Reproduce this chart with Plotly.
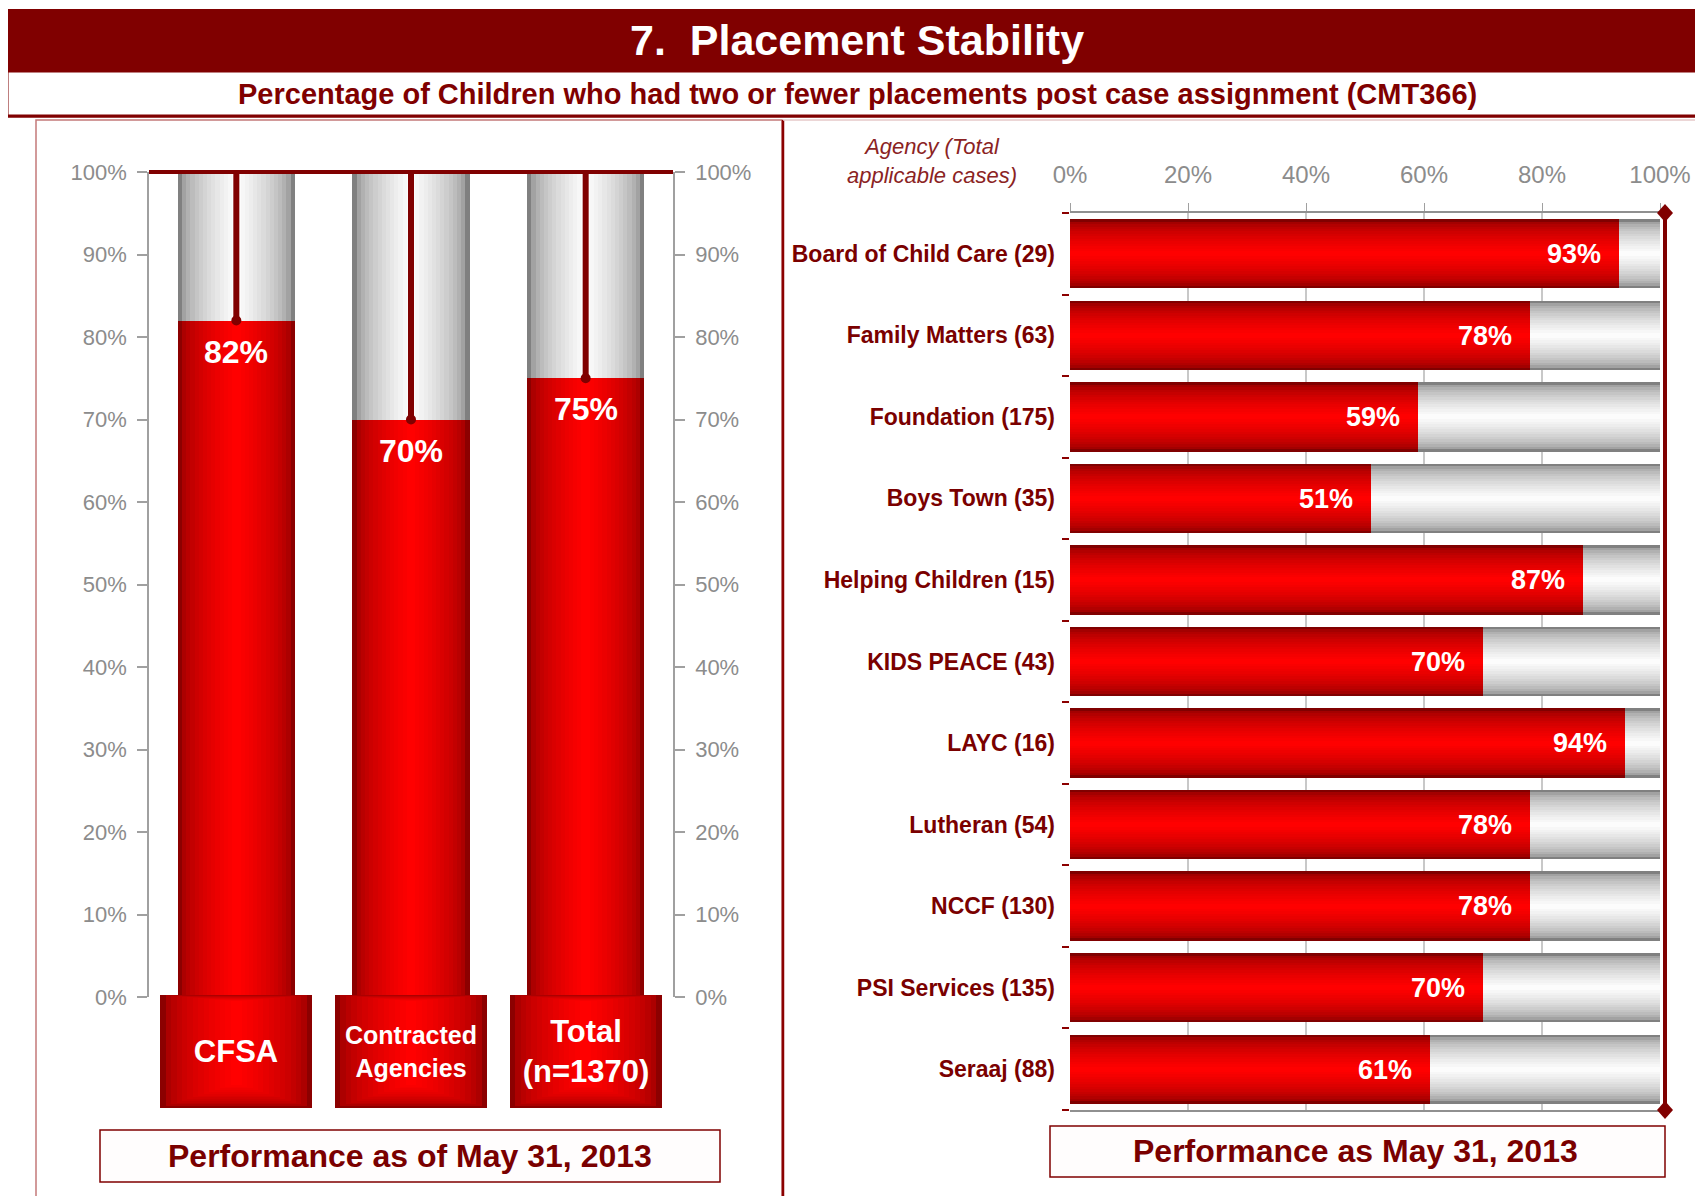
import plotly.graph_objects as go

PAGE_W, PAGE_H = 1703, 1196
BODY = 8                      # default page margin around the plot div
W, H = PAGE_W - BODY, PAGE_H - BODY
FONT = "Liberation Sans, Arial, sans-serif"

# ---------------- data ----------------
summary_keys = ["CFSA", "Contracted Agencies", "Total"]
summary_labels = ["CFSA", "Contracted<br>Agencies", "Total<br>(n=1370)"]
summary_values = [82, 70, 75]

agencies = ["Board of Child Care (29)", "Family Matters (63)", "Foundation (175)",
            "Boys Town (35)", "Helping Children (15)", "KIDS PEACE (43)", "LAYC (16)",
            "Lutheran (54)", "NCCF (130)", "PSI Services (135)", "Seraaj (88)"]
agency_values = [93, 78, 59, 51, 87, 70, 94, 78, 78, 70, 61]

left_ticks = [0, 10, 20, 30, 40, 50, 60, 70, 80, 90, 100]
right_ticks = [0, 20, 40, 60, 80, 100]
FULL = 100

# ---------------- styling helpers ----------------
DARK_RED = (128, 0, 0)
EDGE_RED = (140, 0, 0)
BRIGHT_RED = (255, 0, 0)
GRAY_EDGE = (128, 128, 128)
WHITE = (252, 252, 252)
MAROON = "#800000"
NLAYERS = 14


def mix(c1, c2, t):
    return "rgb(%d,%d,%d)" % tuple(round(a + (b - a) * t) for a, b in zip(c1, c2))


def layers():
    for k in range(NLAYERS):
        yield 1 - k / NLAYERS, (k / (NLAYERS - 1)) ** 0.5


def px_x(p):
    return (p - BODY) / W


def px_y(p):
    return 1 - (p - BODY) / H


fig = go.Figure()

# ---------------- left chart ----------------
BAR_W = 0.67
for frac, t in layers():
    fig.add_trace(go.Bar(x=summary_keys, y=summary_values, width=BAR_W * frac,
                         marker=dict(color=mix(EDGE_RED, BRIGHT_RED, t), line_width=0),
                         xaxis="x", yaxis="y", hoverinfo="skip", showlegend=False))
    fig.add_trace(go.Bar(x=summary_keys, y=[FULL - v for v in summary_values],
                         base=summary_values, width=BAR_W * frac,
                         marker=dict(color=mix(GRAY_EDGE, WHITE, t), line_width=0),
                         xaxis="x", yaxis="y", hoverinfo="skip", showlegend=False))
# stems from 100% to value
fig.add_trace(go.Scatter(x=summary_keys, y=summary_values, mode="markers",
                         marker=dict(color=MAROON, size=10, symbol="circle"),
                         error_y=dict(type="data", symmetric=False,
                                      array=[FULL - v for v in summary_values],
                                      arrayminus=[0] * len(summary_values),
                                      color=MAROON, thickness=6, width=0),
                         xaxis="x", yaxis="y2", hoverinfo="skip", showlegend=False))

# category label boxes (concentric layers: darker at the sides and bottom)
BOX_W = 0.87
for frac, t in layers():
    lo = (1 - frac) * 0.22
    hi = 1 - (1 - frac) * 0.06
    fig.add_trace(go.Bar(x=summary_keys, y=[hi - lo] * len(summary_keys),
                         base=[lo] * len(summary_keys), width=BOX_W * frac,
                         marker=dict(color=mix(EDGE_RED, BRIGHT_RED, t), line_width=0),
                         xaxis="x3", yaxis="y3", hoverinfo="skip", showlegend=False))
fig.add_trace(go.Bar(x=summary_keys, y=[1] * len(summary_keys), width=BOX_W,
                     marker=dict(color="rgba(0,0,0,0)", line_width=0),
                     text=[f"<b>{s}</b>" for s in summary_labels],
                     textposition="inside", insidetextanchor="middle", textangle=0,
                     textfont=dict(color="white", size=[31, 25, 31], family=FONT),
                     xaxis="x3", yaxis="y3", hoverinfo="skip", showlegend=False))

# ---------------- right chart ----------------
pos = list(range(len(agencies)))
ROW_W = 0.85
for frac, t in layers():
    fig.add_trace(go.Bar(y=pos, x=agency_values, orientation="h", width=ROW_W * frac,
                         marker=dict(color=mix(DARK_RED, BRIGHT_RED, t), line_width=0),
                         xaxis="x4", yaxis="y4", hoverinfo="skip", showlegend=False))
    fig.add_trace(go.Bar(y=pos, x=[FULL - v for v in agency_values], base=agency_values,
                         orientation="h", width=ROW_W * frac,
                         marker=dict(color=mix(GRAY_EDGE, WHITE, t), line_width=0),
                         xaxis="x4", yaxis="y4", hoverinfo="skip", showlegend=False))
fig.add_trace(go.Bar(y=pos, x=agency_values, orientation="h", width=ROW_W,
                     marker=dict(color="rgba(0,0,0,0)", line_width=0),
                     text=[f"<b>{v}%</b>\u00a0\u00a0" for v in agency_values],
                     textposition="inside", insidetextanchor="end", textangle=0,
                     textfont=dict(color="white", size=27, family=FONT),
                     xaxis="x4", yaxis="y4", hoverinfo="skip", showlegend=False))

# ---------------- axes ----------------
L_X = [px_x(149), px_x(673)]
L_Y = [px_y(997), px_y(172)]
BOX_Y = [px_y(1108), px_y(995)]
R_X = [px_x(1070), px_x(1660)]
R_Y = [px_y(1110), px_y(213)]

gray_tick_font = dict(family=FONT, size=22, color="#8c8c8c")
left_y_common = dict(domain=L_Y, range=[0, FULL], tickmode="array", tickvals=left_ticks,
                     ticktext=[f"{v}%" for v in left_ticks], ticks="outside", ticklen=10,
                     tickcolor="#a0a0a0", tickwidth=1.5, showline=True, linecolor="#a0a0a0",
                     linewidth=1.5, showgrid=False, zeroline=False, tickfont=gray_tick_font,
                     fixedrange=True, automargin=False)

fig.update_layout(
    width=W, height=H,
    margin=dict(l=0, r=0, t=0, b=0, pad=0, autoexpand=False),
    paper_bgcolor="white", plot_bgcolor="rgba(0,0,0,0)",
    barmode="overlay", bargap=0,
    font=dict(family=FONT),
    xaxis=dict(domain=L_X, type="category", range=[-0.5, 2.5], showticklabels=False,
               ticks="", showline=False, showgrid=False, zeroline=False, anchor="y",
               automargin=False),
    yaxis=dict(anchor="x", side="left", ticklabelstandoff=6, **left_y_common),
    yaxis2=dict(anchor="x", side="right", overlaying="y", ticklabelstandoff=6, **left_y_common),
    xaxis3=dict(domain=L_X, type="category", range=[-0.5, 2.5], visible=False, anchor="y3",
                automargin=False),
    yaxis3=dict(domain=BOX_Y, range=[0, 1], visible=False, anchor="x3", automargin=False),
    xaxis4=dict(domain=R_X, range=[0, FULL], side="top", anchor="y4",
                tickmode="array", tickvals=right_ticks,
                ticktext=[f"{v}%" for v in right_ticks],
                tickfont=dict(family=FONT, size=24, color="#8c8c8c"),
                ticks="outside", ticklen=8, tickcolor="#a0a0a0",
                showgrid=True, gridcolor="#c8c8c8", gridwidth=1.5,
                showline=True, linecolor="#909090", linewidth=2, mirror=True,
                zeroline=False, ticklabelstandoff=10, automargin=False),
    yaxis4=dict(domain=R_Y, range=[len(agencies) - 0.5, -0.5], anchor="x4",
                tickmode="array", tickvals=pos,
                ticktext=[f"<b>{a}</b>" for a in agencies],
                tickfont=dict(family=FONT, size=23, color="#7a0000"),
                ticks="", showgrid=False, zeroline=False, showline=False,
                ticklabelstandoff=14, automargin=False,
                minor=dict(tickmode="array", tickvals=[i - 0.5 for i in range(len(agencies) + 1)],
                           ticks="outside", ticklen=7, tickwidth=2, tickcolor="#8b0000")),
)

# ---------------- decorations ----------------
DIAMOND = "M -3 0 L 5 9 L 13 0 L 5 -9 Z"
shapes = [
    # title band
    dict(type="rect", xref="paper", yref="paper", x0=px_x(8), x1=1, y0=px_y(72), y1=px_y(9),
         fillcolor=MAROON, line_width=0, layer="below"),
    # subtitle box
    dict(type="rect", xref="paper", yref="paper", x0=px_x(8), x1=1.0, y0=px_y(117), y1=px_y(72),
         fillcolor="white", line=dict(color=MAROON, width=1), layer="below"),
    dict(type="line", xref="paper", yref="paper", x0=px_x(8), x1=1, y0=px_y(116), y1=px_y(116),
         line=dict(color=MAROON, width=3), layer="below"),
    # left panel
    dict(type="rect", xref="paper", yref="paper", x0=px_x(36), x1=px_x(782), y0=-0.02, y1=px_y(120),
         line=dict(color="#c47a7a", width=1.5), layer="below"),
    dict(type="line", xref="paper", yref="paper", x0=px_x(783), x1=px_x(783), y0=-0.02, y1=px_y(120),
         line=dict(color="#8b0000", width=2.5), layer="below"),
    dict(type="line", xref="paper", yref="paper", x0=px_x(783), x1=1, y0=px_y(120), y1=px_y(120),
         line=dict(color="#e6c8c8", width=1.5), layer="below"),
    # top 100% line of left chart
    dict(type="line", xref="x domain", yref="y domain", x0=0, x1=1, y0=1, y1=1,
         line=dict(color=MAROON, width=4)),
    # 100% marker line of right chart with diamonds
    dict(type="line", xref="x4 domain", yref="y4 domain", xsizemode="pixel", xanchor=1,
         x0=5, x1=5, y0=0, y1=1, line=dict(color=MAROON, width=4)),
    dict(type="path", xref="x4 domain", yref="y4 domain", xsizemode="pixel", ysizemode="pixel",
         xanchor=1, yanchor=1, path=DIAMOND, fillcolor=MAROON, line_width=0),
    dict(type="path", xref="x4 domain", yref="y4 domain", xsizemode="pixel", ysizemode="pixel",
         xanchor=1, yanchor=0, path=DIAMOND, fillcolor=MAROON, line_width=0),
    # footer boxes
    dict(type="rect", xref="paper", yref="paper", x0=px_x(100), x1=px_x(720), y0=px_y(1182), y1=px_y(1130),
         fillcolor="#fffdfd", line=dict(color=MAROON, width=1.5), layer="below"),
    dict(type="rect", xref="paper", yref="paper", x0=px_x(1050), x1=px_x(1665), y0=px_y(1177), y1=px_y(1126),
         fillcolor="#fffdfd", line=dict(color=MAROON, width=1.5), layer="below"),
]
fig.update_layout(shapes=shapes)

annotations = [
    dict(text="<b>7.  Placement Stability</b>", x=px_x(857), y=px_y(40), xref="paper", yref="paper",
         showarrow=False, xanchor="center", yanchor="middle",
         font=dict(family=FONT, size=43, color="white")),
    dict(text="<b>Percentage of Children who had two or fewer placements post case assignment (CMT366)</b>",
         x=px_x(857), y=px_y(94), xref="paper", yref="paper", showarrow=False,
         xanchor="center", yanchor="middle", font=dict(family=FONT, size=29, color=MAROON)),
    dict(text="<i>Agency (Total<br>applicable cases)</i>", x=px_x(932), y=px_y(161), xref="paper",
         yref="paper", showarrow=False, xanchor="center", yanchor="middle",
         font=dict(family=FONT, size=22, color="#8b2323")),
    dict(text="<b>Performance as of May 31, 2013</b>", x=px_x(410), y=px_y(1156), xref="paper",
         yref="paper", showarrow=False, xanchor="center", yanchor="middle",
         font=dict(family=FONT, size=32, color="#7a0000")),
    dict(text="<b>Performance as May 31, 2013</b>", x=px_x(1355), y=px_y(1151), xref="paper",
         yref="paper", showarrow=False, xanchor="center", yanchor="middle",
         font=dict(family=FONT, size=32, color="#7a0000")),
]
# value labels of the left chart, hung just below each bar top
for k, v in zip(summary_keys, summary_values):
    annotations.append(dict(text=f"<b>{v}%</b>", x=k, y=v, xref="x", yref="y",
                            showarrow=False, xanchor="center", yanchor="top", yshift=-11,
                            font=dict(family=FONT, size=32, color="white")))
fig.update_layout(annotations=annotations)

fig.write_html("out.html")
